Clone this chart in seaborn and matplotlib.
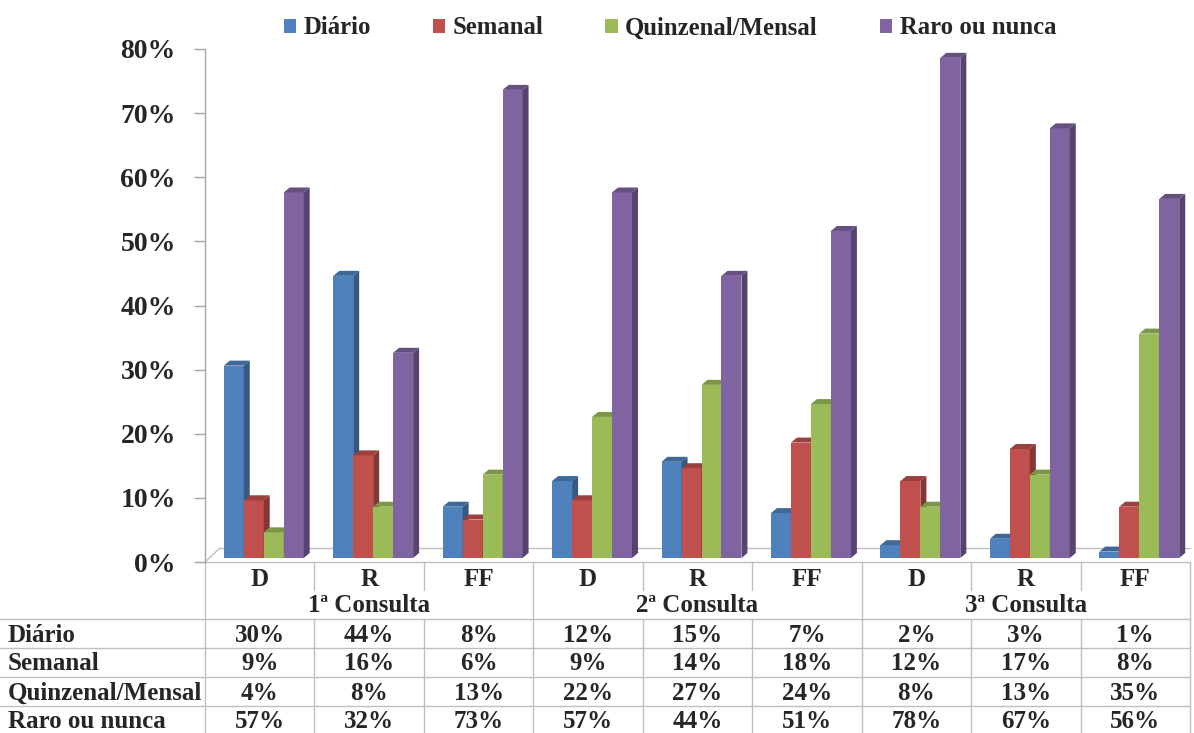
import numpy as np
import pandas as pd
import matplotlib
matplotlib.use("Agg")
import matplotlib.pyplot as plt
import matplotlib.transforms as mtransforms
from matplotlib.patches import Polygon, Rectangle
import seaborn as sns

# ---- data -------------------------------------------------------------
consultas = ["1ª Consulta", "2ª Consulta", "3ª Consulta"]
itens = ["D", "R", "FF"]
frequencias = ["Diário", "Semanal", "Quinzenal/Mensal", "Raro ou nunca"]

diario = [30, 44, 8, 12, 15, 7, 2, 3, 1]
semanal = [9, 16, 6, 9, 14, 18, 12, 17, 8]
quinzenal_mensal = [4, 8, 13, 22, 27, 24, 8, 13, 35]
raro_ou_nunca = [57, 32, 73, 57, 44, 51, 78, 67, 56]

y_ticks = [0, 10, 20, 30, 40, 50, 60, 70, 80]
cores = ["#4F81BD", "#C0504D", "#9BBB59", "#8064A2"]

series = [diario, semanal, quinzenal_mensal, raro_ou_nunca]
slots = [f"{c}|{i}" for c in consultas for i in itens]
rows = []
for freq, vals in zip(frequencias, series):
    for slot, v in zip(slots, vals):
        rows.append({"slot": slot, "freq": freq, "valor": v / 100})
df = pd.DataFrame(rows)

# ---- figure -----------------------------------------------------------
sns.set_theme(style="white")
plt.rcParams["font.family"] = ["Liberation Serif", "DejaVu Serif"]
plt.rcParams["font.weight"] = "bold"

W, H = 1194, 733
fig = plt.figure(figsize=(W / 100, H / 100), dpi=100)

X0, X1 = 205, 1190          # plot area in pixels
Y0, Y80 = 562, 49
ax = fig.add_axes([X0 / W, (H - Y0) / H, (X1 - X0) / W, (Y0 - Y80) / H])

sns.barplot(data=df, x="slot", y="valor", hue="freq", order=slots,
            hue_order=frequencias, palette=cores, width=0.73,
            saturation=1, linewidth=0, legend=False, ax=ax)

ax.set_xlim(-0.5, len(slots) - 0.5)
ax.set_ylim(0, 0.8)

# pseudo-3D: shift the bars into the floor and give them depth
px_x = len(slots) / (X1 - X0)
px_y = 0.8 / (Y0 - Y80)
shift = mtransforms.ScaledTranslation(4 / 100, 4 / 100, fig.dpi_scale_trans)
tr = ax.transData + shift
dxd, dyd = 6 * px_x, 5 * px_y
rgb = [np.array(matplotlib.colors.to_rgb(c)) for c in cores]

for p in list(ax.patches):
    x0, w, v = p.get_x(), p.get_width(), p.get_height()
    x1 = x0 + w
    fc = np.array(p.get_facecolor()[:3])
    h = int(np.argmin([np.abs(fc - c).sum() for c in rgb]))
    z = 3 + h
    p.set_transform(tr)
    p.set_zorder(z)
    p.set_clip_on(False)
    side = Polygon([(x1, 0), (x1 + dxd, dyd), (x1 + dxd, v + dyd), (x1, v)],
                   closed=True, fc=fc * 0.68, ec="none", transform=tr,
                   zorder=z, clip_on=False)
    top = Polygon([(x0, v), (x0 + dxd, v + dyd), (x1 + dxd, v + dyd), (x1, v)],
                  closed=True, fc=fc * 0.8, ec="none", transform=tr,
                  zorder=z, clip_on=False)
    ax.add_patch(side)
    ax.add_patch(top)

# axes styling
for s in ["top", "right", "bottom"]:
    ax.spines[s].set_visible(False)
ax.spines["left"].set_color("#A6A6A6")
ax.spines["left"].set_linewidth(1)
ax.set_yticks([t / 100 for t in y_ticks])
ax.set_yticklabels([f"{t}%" for t in y_ticks])
ax.tick_params(axis="y", left=True, direction="out", length=8, width=1,
               color="#A6A6A6", pad=13, labelsize=20)
ax.set_xticks([])
ax.set_xlabel("")
ax.set_ylabel("")
ax.patch.set_alpha(0)

# ---- floor and data table (overlay in pixel space) --------------------
tab = fig.add_axes([0, 0, 1, 1])
tab.set_xlim(0, W)
tab.set_ylim(H, 0)
tab.axis("off")
tab.set_zorder(-1)

grid = "#BFBFBF"
# floor
tab.plot([X0, X0 + 15], [Y0, Y0 - 14], color=grid, lw=1)
tab.plot([X0 + 15, X1], [Y0 - 14, Y0 - 14], color=grid, lw=1)
tab.plot([197, X1], [Y0, Y0], color=grid, lw=1)

col_w = (X1 - X0) / len(slots)
row_y = [635, 664, 693, 722]
hlines = [619, 648, 677, 706]
for yy in hlines:
    tab.plot([0, X1], [yy, yy], color=grid, lw=1)
for k in range(len(slots) + 1):
    xx = X0 + k * col_w
    if k % 3 == 0:
        tab.plot([xx, xx], [Y0, H], color=grid, lw=1)
    else:
        tab.plot([xx, xx], [Y0, 590], color=grid, lw=1)
        tab.plot([xx, xx], [619, H], color=grid, lw=1)

fs = 18
for k, slot in enumerate(slots):
    cx = X0 + (k + 0.5) * col_w
    tab.text(cx, 579, slot.split("|")[1], ha="center", va="center",
             fontsize=fs, fontweight="bold")
    for r, vals in enumerate(series):
        tab.text(cx, row_y[r], f"{vals[k]}%", ha="center", va="center",
                 fontsize=fs, fontweight="bold")
for g, c in enumerate(consultas):
    cx = X0 + (3 * g + 1.5) * col_w
    tab.text(cx, 606, c, ha="center", va="center", fontsize=fs,
             fontweight="bold")
for r, f in enumerate(frequencias):
    tab.text(8, row_y[r], f, ha="left", va="center", fontsize=fs,
             fontweight="bold")

# ---- legend -----------------------------------------------------------
handles = [Rectangle((0, 0), 1, 1, fc=c, ec="none") for c in cores]
fig.legend(handles, frequencias, loc="center", bbox_to_anchor=(670 / W, 1 - 28 / H),
           ncol=4, frameon=False, handlelength=0.5, handleheight=0.5,
           handletextpad=0.3, columnspacing=2.5,
           prop={"size": 17.8, "weight": "bold"})

fig.savefig("out.png", dpi=100)
